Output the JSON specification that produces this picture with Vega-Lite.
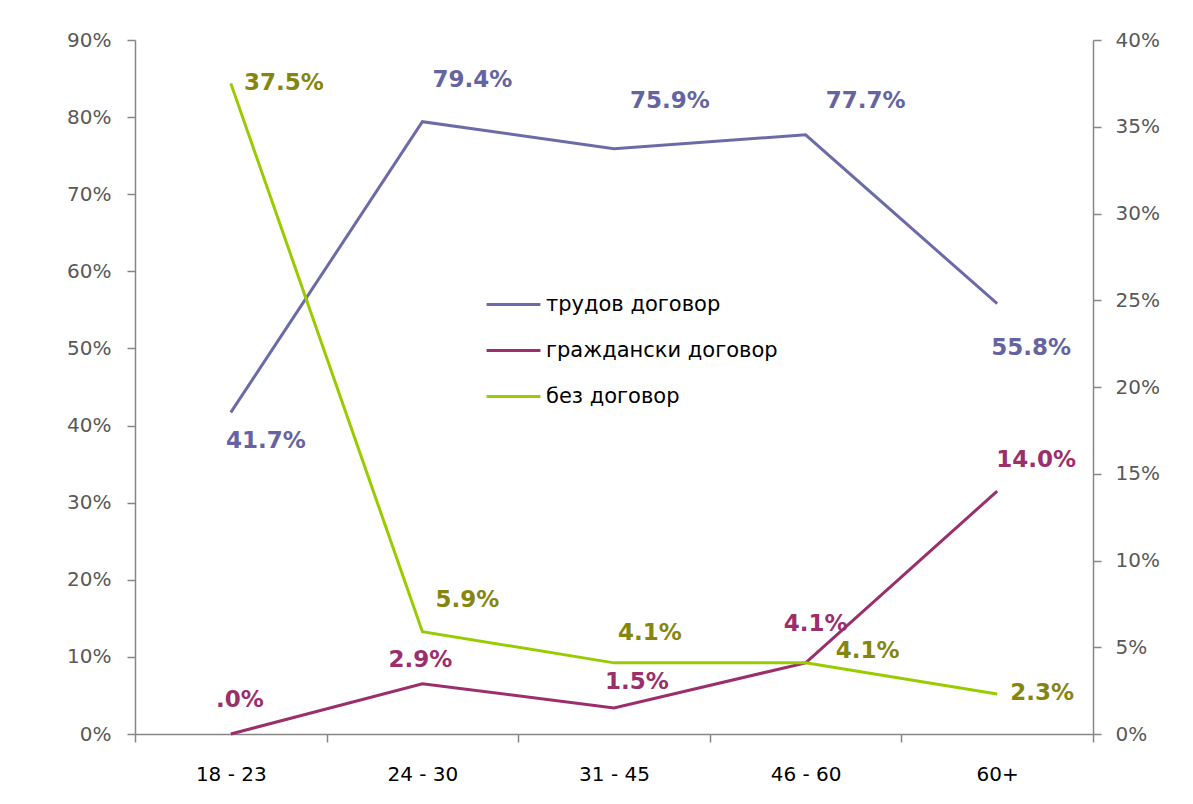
{
  "$schema": "https://vega.github.io/schema/vega-lite/v6.json",
  "width": 958,
  "height": 694,
  "autosize": {"type": "none"},
  "padding": {"left": 135, "top": 40, "right": 100, "bottom": 70},
  "background": "white",
  "config": {
    "font": "DejaVu Sans",
    "view": {"stroke": null},
    "axis": {
      "grid": false,
      "domainColor": "#868686",
      "domainWidth": 1.5,
      "tickColor": "#868686",
      "tickWidth": 1.5,
      "tickSize": 8,
      "labelColor": "#595959",
      "labelFont": "DejaVu Sans",
      "labelFontSize": 20,
      "title": null
    },
    "legend": {
      "orient": "none",
      "legendX": 350,
      "legendY": 236,
      "title": null,
      "symbolType": "stroke",
      "symbolStrokeWidth": 3,
      "symbolSize": 2900,
      "labelFontSize": 21,
      "labelFont": "DejaVu Sans",
      "labelColor": "#000000",
      "labelOffset": 4,
      "labelLimit": 400,
      "rowPadding": 7
    }
  },
  "data": {
    "values": [
      {"age": "18 - 23", "series": "трудов договор", "value": 0.417, "label": "41.7%"},
      {"age": "24 - 30", "series": "трудов договор", "value": 0.794, "label": "79.4%"},
      {"age": "31 - 45", "series": "трудов договор", "value": 0.759, "label": "75.9%"},
      {"age": "46 - 60", "series": "трудов договор", "value": 0.777, "label": "77.7%"},
      {"age": "60+", "series": "трудов договор", "value": 0.558, "label": "55.8%"},
      {"age": "18 - 23", "series": "граждански договор", "value": 0.0, "label": ".0%"},
      {"age": "24 - 30", "series": "граждански договор", "value": 0.029, "label": "2.9%"},
      {"age": "31 - 45", "series": "граждански договор", "value": 0.015, "label": "1.5%"},
      {"age": "46 - 60", "series": "граждански договор", "value": 0.041, "label": "4.1%"},
      {"age": "60+", "series": "граждански договор", "value": 0.14, "label": "14.0%"},
      {"age": "18 - 23", "series": "без договор", "value": 0.375, "label": "37.5%"},
      {"age": "24 - 30", "series": "без договор", "value": 0.059, "label": "5.9%"},
      {"age": "31 - 45", "series": "без договор", "value": 0.041, "label": "4.1%"},
      {"age": "46 - 60", "series": "без договор", "value": 0.041, "label": "4.1%"},
      {"age": "60+", "series": "без договор", "value": 0.023, "label": "2.3%"}
    ]
  },
  "encoding": {
    "x": {
      "field": "age",
      "type": "nominal",
      "sort": ["18 - 23", "24 - 30", "31 - 45", "46 - 60", "60+"],
      "scale": {"type": "band", "paddingInner": 0, "paddingOuter": 0},
      "axis": {"labelAngle": 0, "tickBand": "extent", "labelPadding": 22, "labelColor": "#000000"}
    }
  },
  "layer": [
    {
      "transform": [{"filter": "datum.series == 'трудов договор'"}],
      "encoding": {
        "y": {
          "field": "value",
          "type": "quantitative",
          "scale": {"domain": [0, 0.9], "nice": false, "zero": true},
          "axis": {"orient": "left", "values": [0, 0.1, 0.2, 0.3, 0.4, 0.5, 0.6, 0.7, 0.8, 0.9], "format": ".0%", "labelPadding": 16}
        }
      },
      "layer": [
        {
          "mark": {"type": "line", "strokeWidth": 3},
          "encoding": {
            "color": {
              "field": "series",
              "type": "nominal",
              "scale": {"domain": ["трудов договор", "граждански договор", "без договор"], "range": ["#6B6BA8", "#9B2F6B", "#99CC00"]},
              "legend": {}
            }
          }
        },
        {"transform": [{"filter": "datum.age == '18 - 23'"}], "mark": {"type": "text", "fontSize": 23, "fontWeight": "bold", "color": "#6464A3", "dx": 35, "dy": 29}, "encoding": {"text": {"field": "label"}}},
        {"transform": [{"filter": "datum.age == '24 - 30'"}], "mark": {"type": "text", "fontSize": 23, "fontWeight": "bold", "color": "#6464A3", "dx": 50, "dy": -42}, "encoding": {"text": {"field": "label"}}},
        {"transform": [{"filter": "datum.age == '31 - 45'"}], "mark": {"type": "text", "fontSize": 23, "fontWeight": "bold", "color": "#6464A3", "dx": 56, "dy": -48}, "encoding": {"text": {"field": "label"}}},
        {"transform": [{"filter": "datum.age == '46 - 60'"}], "mark": {"type": "text", "fontSize": 23, "fontWeight": "bold", "color": "#6464A3", "dx": 60, "dy": -34}, "encoding": {"text": {"field": "label"}}},
        {"transform": [{"filter": "datum.age == '60+'"}], "mark": {"type": "text", "fontSize": 23, "fontWeight": "bold", "color": "#6464A3", "dx": 34, "dy": 44}, "encoding": {"text": {"field": "label"}}}
      ]
    },
    {
      "transform": [{"filter": "datum.series != 'трудов договор'"}],
      "encoding": {
        "y": {
          "field": "value",
          "type": "quantitative",
          "scale": {"domain": [0, 0.4], "nice": false, "zero": true},
          "axis": {"orient": "right", "values": [0, 0.05, 0.1, 0.15, 0.2, 0.25, 0.3, 0.35, 0.4], "format": ".0%", "labelPadding": 14}
        }
      },
      "layer": [
        {
          "mark": {"type": "line", "strokeWidth": 3},
          "encoding": {
            "color": {
              "field": "series",
              "type": "nominal",
              "scale": {"domain": ["трудов договор", "граждански договор", "без договор"], "range": ["#6B6BA8", "#9B2F6B", "#99CC00"]},
              "legend": {}
            }
          }
        },
        {"transform": [{"filter": "datum.series == 'без договор' && datum.age == '18 - 23'"}], "mark": {"type": "text", "fontSize": 23, "fontWeight": "bold", "color": "#86860F", "dx": 53, "dy": 0}, "encoding": {"text": {"field": "label"}}},
        {"transform": [{"filter": "datum.series == 'без договор' && datum.age == '24 - 30'"}], "mark": {"type": "text", "fontSize": 23, "fontWeight": "bold", "color": "#86860F", "dx": 45, "dy": -32}, "encoding": {"text": {"field": "label"}}},
        {"transform": [{"filter": "datum.series == 'без договор' && datum.age == '31 - 45'"}], "mark": {"type": "text", "fontSize": 23, "fontWeight": "bold", "color": "#86860F", "dx": 36, "dy": -30}, "encoding": {"text": {"field": "label"}}},
        {"transform": [{"filter": "datum.series == 'без договор' && datum.age == '46 - 60'"}], "mark": {"type": "text", "fontSize": 23, "fontWeight": "bold", "color": "#86860F", "dx": 62, "dy": -12}, "encoding": {"text": {"field": "label"}}},
        {"transform": [{"filter": "datum.series == 'без договор' && datum.age == '60+'"}], "mark": {"type": "text", "fontSize": 23, "fontWeight": "bold", "color": "#86860F", "dx": 45, "dy": -1}, "encoding": {"text": {"field": "label"}}},
        {"transform": [{"filter": "datum.series == 'граждански договор' && datum.age == '18 - 23'"}], "mark": {"type": "text", "fontSize": 23, "fontWeight": "bold", "color": "#9B2F6B", "dx": 9, "dy": -34}, "encoding": {"text": {"field": "label"}}},
        {"transform": [{"filter": "datum.series == 'граждански договор' && datum.age == '24 - 30'"}], "mark": {"type": "text", "fontSize": 23, "fontWeight": "bold", "color": "#9B2F6B", "dx": -2, "dy": -24}, "encoding": {"text": {"field": "label"}}},
        {"transform": [{"filter": "datum.series == 'граждански договор' && datum.age == '31 - 45'"}], "mark": {"type": "text", "fontSize": 23, "fontWeight": "bold", "color": "#9B2F6B", "dx": 23, "dy": -26}, "encoding": {"text": {"field": "label"}}},
        {"transform": [{"filter": "datum.series == 'граждански договор' && datum.age == '46 - 60'"}], "mark": {"type": "text", "fontSize": 23, "fontWeight": "bold", "color": "#9B2F6B", "dx": 10, "dy": -39}, "encoding": {"text": {"field": "label"}}},
        {"transform": [{"filter": "datum.series == 'граждански договор' && datum.age == '60+'"}], "mark": {"type": "text", "fontSize": 23, "fontWeight": "bold", "color": "#9B2F6B", "dx": 39, "dy": -31}, "encoding": {"text": {"field": "label"}}}
      ]
    }
  ],
  "resolve": {"scale": {"y": "independent"}}
}
